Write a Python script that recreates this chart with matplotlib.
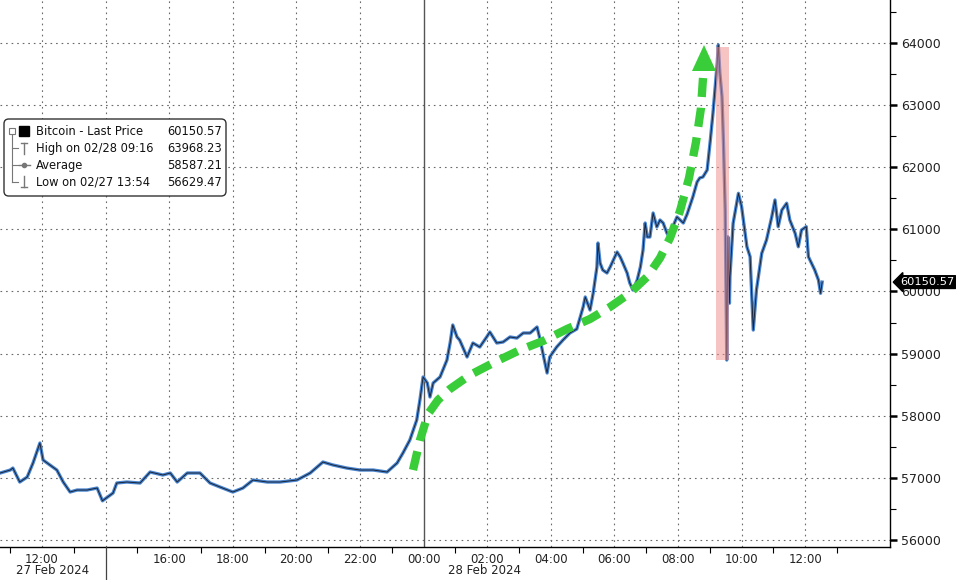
import matplotlib
matplotlib.use("Agg")
import matplotlib.pyplot as plt
import matplotlib.dates as mdates
from matplotlib.patches import Rectangle, FancyBboxPatch, Polygon
from matplotlib.lines import Line2D
from matplotlib.transforms import blended_transform_factory
import pandas as pd

# ---------------- data ----------------
times = [
    "2024-02-27 10:41", "2024-02-27 11:00", "2024-02-27 11:05", "2024-02-27 11:18", "2024-02-27 11:32",
    "2024-02-27 11:43", "2024-02-27 11:56", "2024-02-27 12:02", "2024-02-27 12:15", "2024-02-27 12:28",
    "2024-02-27 12:40", "2024-02-27 12:53", "2024-02-27 13:06", "2024-02-27 13:25", "2024-02-27 13:44",
    "2024-02-27 13:54", "2024-02-27 14:14", "2024-02-27 14:21", "2024-02-27 14:40", "2024-02-27 15:05",
    "2024-02-27 15:24", "2024-02-27 15:48", "2024-02-27 16:02", "2024-02-27 16:15", "2024-02-27 16:34",
    "2024-02-27 16:58", "2024-02-27 17:17", "2024-02-27 17:36", "2024-02-27 18:00", "2024-02-27 18:19",
    "2024-02-27 18:38", "2024-02-27 19:05", "2024-02-27 19:29", "2024-02-27 20:01", "2024-02-27 20:26",
    "2024-02-27 20:50", "2024-02-27 21:09", "2024-02-27 21:35", "2024-02-27 22:00", "2024-02-27 22:25",
    "2024-02-27 22:51", "2024-02-27 23:10", "2024-02-27 23:21", "2024-02-27 23:34", "2024-02-27 23:47",
    "2024-02-27 23:53", "2024-02-27 23:59",
    "2024-02-28 00:07", "2024-02-28 00:12", "2024-02-28 00:18", "2024-02-28 00:31", "2024-02-28 00:44",
    "2024-02-28 00:50", "2024-02-28 00:55", "2024-02-28 01:03", "2024-02-28 01:08", "2024-02-28 01:22",
    "2024-02-28 01:33", "2024-02-28 01:46", "2024-02-28 01:59", "2024-02-28 02:05", "2024-02-28 02:18",
    "2024-02-28 02:30", "2024-02-28 02:43", "2024-02-28 02:56", "2024-02-28 03:08", "2024-02-28 03:21",
    "2024-02-28 03:34", "2024-02-28 03:40", "2024-02-28 03:45", "2024-02-28 03:53", "2024-02-28 03:58",
    "2024-02-28 04:11", "2024-02-28 04:23", "2024-02-28 04:36", "2024-02-28 04:49", "2024-02-28 05:01",
    "2024-02-28 05:05", "2024-02-28 05:14", "2024-02-28 05:20", "2024-02-28 05:27", "2024-02-28 05:29",
    "2024-02-28 05:33", "2024-02-28 05:38", "2024-02-28 05:46", "2024-02-28 05:52", "2024-02-28 05:58",
    "2024-02-28 06:05", "2024-02-28 06:11", "2024-02-28 06:16", "2024-02-28 06:24", "2024-02-28 06:29",
    "2024-02-28 06:35", "2024-02-28 06:43", "2024-02-28 06:49", "2024-02-28 06:54", "2024-02-28 06:58",
    "2024-02-28 07:02", "2024-02-28 07:07", "2024-02-28 07:13", "2024-02-28 07:20", "2024-02-28 07:26",
    "2024-02-28 07:32", "2024-02-28 07:39", "2024-02-28 07:45", "2024-02-28 07:50", "2024-02-28 07:58",
    "2024-02-28 08:04", "2024-02-28 08:10", "2024-02-28 08:17", "2024-02-28 08:28", "2024-02-28 08:36",
    "2024-02-28 08:41", "2024-02-28 08:47", "2024-02-28 08:55", "2024-02-28 09:01", "2024-02-28 09:06",
    "2024-02-28 09:14", "2024-02-28 09:16", "2024-02-28 09:19", "2024-02-28 09:23", "2024-02-28 09:26",
    "2024-02-28 09:28", "2024-02-28 09:29", "2024-02-28 09:32", "2024-02-28 09:34", "2024-02-28 09:37",
    "2024-02-28 09:38", "2024-02-28 09:44", "2024-02-28 09:54", "2024-02-28 10:00", "2024-02-28 10:10",
    "2024-02-28 10:16", "2024-02-28 10:22", "2024-02-28 10:28", "2024-02-28 10:38", "2024-02-28 10:47",
    "2024-02-28 10:57", "2024-02-28 11:03", "2024-02-28 11:09", "2024-02-28 11:16", "2024-02-28 11:25",
    "2024-02-28 11:31", "2024-02-28 11:41", "2024-02-28 11:47", "2024-02-28 11:53", "2024-02-28 12:02",
    "2024-02-28 12:06", "2024-02-28 12:12", "2024-02-28 12:18", "2024-02-28 12:25", "2024-02-28 12:29",
    "2024-02-28 12:32",
]
prices = [
    57077, 57125, 57157, 56932, 57012,
    57238, 57560, 57286, 57206, 57125,
    56932, 56771, 56803, 56803, 56835,
    56629.47, 56755, 56916, 56932, 56916,
    57093, 57045, 57077, 56932, 57077,
    57077, 56916, 56851, 56771, 56835,
    56964, 56932, 56932, 56964, 57077,
    57254, 57206, 57157, 57125, 57125,
    57093, 57238, 57399, 57608, 57930,
    58252, 58623,
    58526, 58301, 58526, 58623, 58896,
    59170, 59460, 59267, 59218, 58945,
    59170, 59105, 59267, 59347, 59170,
    59186, 59267, 59250, 59331, 59331,
    59428, 59218, 59009, 58687, 58945,
    59105, 59218, 59331, 59395, 59750,
    59911, 59701, 59975, 60394, 60780,
    60458, 60345, 60297, 60394, 60506,
    60635, 60554, 60458, 60297, 60136,
    60023, 60184, 60394, 60667, 61102,
    60877, 60877, 61263, 61038, 61150,
    61102, 60941, 60860, 61038, 61199,
    61150, 61102, 61240, 61521, 61762,
    61827, 61843, 61955, 62438, 62873,
    63678, 63968.23, 63517, 63135, 62330,
    61686, 61311, 58896, 60880, 59810,
    60238, 61097, 61580, 61365, 60720,
    60560, 59379, 60023, 60614, 60829,
    61205, 61473, 61043, 61311, 61420,
    61150, 60936, 60720, 60989, 61043,
    60560, 60453, 60345, 60184, 59970,
    60150.57,
]

legend_labels = ["Bitcoin - Last Price", "High on 02/28 09:16", "Average", "Low on 02/27 13:54"]
legend_values = ["60150.57", "63968.23", "58587.21", "56629.47"]
last_price = 60150.57

y_ticks = [56000, 57000, 58000, 59000, 60000, 61000, 62000, 63000, 64000]
x_tick_times = ["2024-02-27 12:00", "2024-02-27 14:00", "2024-02-27 16:00", "2024-02-27 18:00",
                "2024-02-27 20:00", "2024-02-27 22:00", "2024-02-28 00:00", "2024-02-28 02:00",
                "2024-02-28 04:00", "2024-02-28 06:00", "2024-02-28 08:00", "2024-02-28 10:00",
                "2024-02-28 12:00"]
x_tick_labels = ["12:00", "", "16:00", "18:00", "20:00", "22:00", "00:00", "02:00",
                 "04:00", "06:00", "08:00", "10:00", "12:00"]
date_labels = ["27 Feb 2024", "28 Feb 2024"]

# highlighted crash window
band_start, band_end = "2024-02-28 09:12", "2024-02-28 09:37"
band_low, band_high = 58900, 63930

# ---------------- figure ----------------
W, H = 956, 580
fig = plt.figure(figsize=(W / 100, H / 100), dpi=100)
fig.patch.set_facecolor("white")
AX_R, AX_B = 890, 547
ax = fig.add_axes([0, 1 - AX_B / H, AX_R / W, AX_B / H])

t = mdates.date2num(pd.to_datetime(times))
xt = mdates.date2num(pd.to_datetime(x_tick_times))

ax.set_xlim(mdates.date2num(pd.Timestamp("2024-02-27 10:40:42")),
            mdates.date2num(pd.Timestamp("2024-02-28 14:40")))
ax.set_ylim(55886, 64692)

# grid
for yv in y_ticks:
    ax.axhline(yv, color="#6a6a6a", lw=0.8, ls=(0, (1.5, 3.5)), zorder=0)
for xv, lab in zip(xt, x_tick_times):
    if lab.endswith("28 00:00"):
        ax.axvline(xv, color="#555555", lw=1.0, zorder=0)
    else:
        ax.axvline(xv, color="#6a6a6a", lw=0.8, ls=(0, (1.5, 3.5)), zorder=0)

# price line
ax.plot(t, prices, color="#4a86d0", lw=2.4, zorder=3)
ax.plot(t, prices, color="#151a28", lw=0.7, alpha=0.9, zorder=4)

# red band
b0 = mdates.date2num(pd.Timestamp(band_start))
b1 = mdates.date2num(pd.Timestamp(band_end))
ax.add_patch(Rectangle((b0, band_low), b1 - b0, band_high - band_low,
                       facecolor="#f08a8a", alpha=0.5, edgecolor="none", zorder=5))

# green dashed arrow (pixel path, in axes fraction)
def axpt(x, y):
    return (x / AX_R, (AX_B - y) / AX_B)

arrow_px = [(413, 470), (420, 440), (428, 414), (438, 400), (450, 389), (470, 375), (497, 361),
            (520, 350), (543, 341), (567, 329), (590, 319), (610, 307), (630, 293), (647, 277),
            (660, 258), (670, 238), (680, 211), (689, 178), (696, 142), (701, 108), (703, 78)]
ap = [axpt(*p) for p in arrow_px]
green = "#3acd3a"
ax.add_line(Line2D([p[0] for p in ap], [p[1] for p in ap], transform=ax.transAxes,
                   color=green, lw=6.0, ls=(0, (2.3, 1.3)), solid_capstyle="butt",
                   dash_capstyle="butt", zorder=6))
head = [axpt(704, 45), axpt(692, 71), axpt(716, 71)]
ax.add_patch(Polygon(head, closed=True, transform=ax.transAxes, facecolor=green,
                     edgecolor="none", zorder=6))

# axes styling
for s in ["top", "left"]:
    ax.spines[s].set_visible(False)
ax.spines["right"].set_color("black")
ax.spines["bottom"].set_color("black")
ax.spines["right"].set_linewidth(1.0)
ax.spines["bottom"].set_linewidth(1.0)

ax.yaxis.tick_right()
ax.set_yticks(y_ticks)
ax.set_yticklabels([str(v) for v in y_ticks])
ax.set_yticks([56500, 57500, 58500, 59500, 60500, 61500, 62500, 63500, 64500], minor=True)
ax.tick_params(axis="y", which="major", length=5, width=1.8, pad=3, labelsize=9,
               labelcolor="#222222", direction="out")
ax.tick_params(axis="y", which="minor", length=4, width=0.8, direction="out")

ax.set_xticks(xt)
ax.set_xticklabels(x_tick_labels)
minor_x = mdates.date2num(pd.date_range("2024-02-27 11:00", "2024-02-28 13:00", freq="2h"))
ax.set_xticks(minor_x, minor=True)
ax.tick_params(axis="x", which="major", length=0, pad=4, labelsize=8.5, labelcolor="#222222")
ax.tick_params(axis="x", which="minor", length=4, width=0.8, direction="out")

# date labels and separator
def fpt(x, y):
    return (x / W, 1 - y / H)

fig.text(*fpt(53, 571), date_labels[0], ha="center", va="center", fontsize=8.5, color="#222222")
fig.text(*fpt(484, 571), date_labels[1], ha="center", va="center", fontsize=8.5, color="#222222")
sep_x = xt[1]
trans_bl = blended_transform_factory(ax.transData, fig.transFigure)
fig.add_artist(Line2D([sep_x, sep_x], [1 - AX_B / H, 0], transform=trans_bl, color="#444444", lw=0.9))

# last price tag
tb = blended_transform_factory(ax.transAxes, ax.transData)
ax.text(1.0 + 10 / AX_R, last_price, f"{last_price:.2f}", transform=tb, ha="left", va="center",
        fontsize=8.2, color="white", clip_on=False, zorder=10,
        bbox=dict(boxstyle="larrow,pad=0.12", facecolor="black", edgecolor="black"))

# legend box
lx0, ly0, lx1, ly1 = 4, 119, 226, 196
box = FancyBboxPatch(fpt(lx0, ly1), (lx1 - lx0) / W, (ly1 - ly0) / H,
                     boxstyle="round,pad=0,rounding_size=0.005", mutation_aspect=W / H,
                     transform=fig.transFigure, facecolor="white", edgecolor="#333333", lw=1.0,
                     zorder=20)
fig.add_artist(box)
rows_y = [131, 148, 165, 182]
gray = "#777777"

def fline(xs, ys, **kw):
    fig.add_artist(Line2D([x / W for x in xs], [1 - y / H for y in ys],
                          transform=fig.transFigure, zorder=21, **kw))

# tree connectors
fline([12, 12], [135, 182], color=gray, lw=0.8)
for ry in rows_y[1:]:
    fline([12, 18], [ry, ry], color=gray, lw=0.8)
# collapse box
fig.add_artist(Rectangle(fpt(9, 134), 6 / W, 6 / H, transform=fig.transFigure,
                         facecolor="white", edgecolor=gray, lw=0.8, zorder=22))
fline([10.5, 13.5], [131, 131], color=gray, lw=0.8)
# series square
fig.add_artist(Rectangle(fpt(19, 136), 10 / W, 10 / H, transform=fig.transFigure,
                         facecolor="black", edgecolor="black", zorder=22))
# high symbol
fline([24, 24], [143, 154], color=gray, lw=1.0)
fline([21, 27], [143, 143], color=gray, lw=1.0)
# average symbol
fline([19, 30], [165, 165], color=gray, lw=1.0)
fig.add_artist(Line2D([24 / W], [1 - 165 / H], transform=fig.transFigure, marker="o",
                      markersize=3, color=gray, zorder=22))
# low symbol
fline([24, 24], [176, 187], color=gray, lw=1.0)
fline([21, 27], [187, 187], color=gray, lw=1.0)

for ry, lab, val in zip(rows_y, legend_labels, legend_values):
    fig.text(*fpt(36, ry), lab, ha="left", va="center", fontsize=8.3, color="#111111", zorder=23)
    fig.text(*fpt(222, ry), val, ha="right", va="center", fontsize=8.3, color="#111111", zorder=23)

fig.savefig("out.png", dpi=100, facecolor="white")
